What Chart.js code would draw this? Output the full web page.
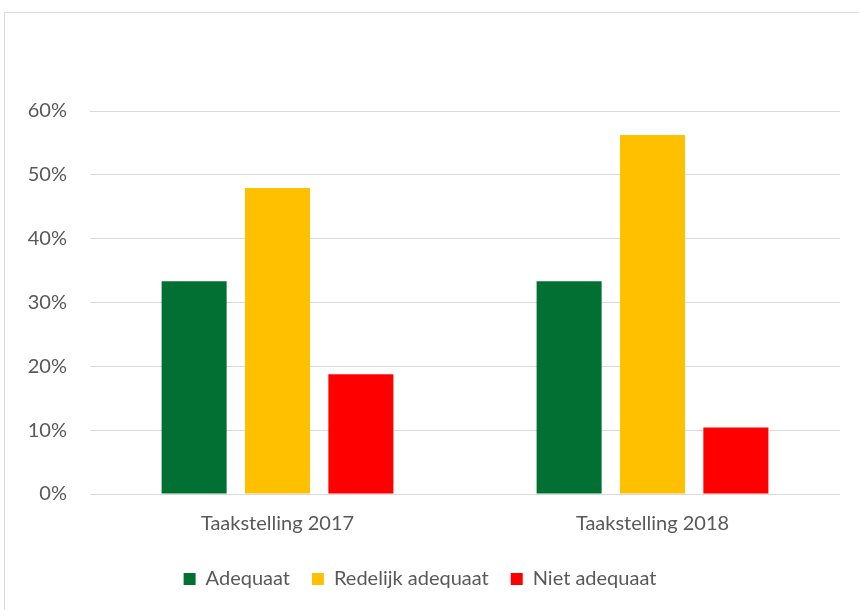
<!DOCTYPE html>
<html>
<head>
<meta charset="utf-8">
<script src="https://cdn.jsdelivr.net/npm/chart.js@4.4.0/dist/chart.umd.min.js"></script>
<style>
  html, body { margin: 0; padding: 0; background: #fff; overflow: hidden; }
  #frame { position: absolute; left: 4px; top: 12px; width: 900px; height: 650px; border: 1px solid #d9d9d9; box-sizing: border-box; }
  #wrap { position: absolute; left: 0; top: 0; width: 859px; height: 610px; }
</style>
</head>
<body>
<div id="frame"></div>
<div id="wrap"><canvas id="c" width="859" height="610"></canvas></div>
<script>
const categories = ["Taakstelling 2017", "Taakstelling 2018"];
const seriesNames = ["Adequaat", "Redelijk adequaat", "Niet adequaat"];
const adequaat = [0.3333, 0.3333];
const redelijkAdequaat = [0.4792, 0.5625];
const nietAdequaat = [0.1875, 0.1042];
const yTicks = [0, 0.1, 0.2, 0.3, 0.4, 0.5, 0.6];

const colors = ["#027033", "#ffc000", "#ff0000"];
const textColor = "#595959";
const fontFamily = "Lato, 'Open Sans', sans-serif";

new Chart(document.getElementById("c"), {
  type: "bar",
  data: {
    labels: categories,
    datasets: [
      { label: seriesNames[0], data: adequaat, backgroundColor: colors[0] },
      { label: seriesNames[1], data: redelijkAdequaat, backgroundColor: colors[1] },
      { label: seriesNames[2], data: nietAdequaat, backgroundColor: colors[2] }
    ]
  },
  options: {
    responsive: false,
    animation: false,
    devicePixelRatio: 1,
    categoryPercentage: 0.667,
    barPercentage: 0.78,
    layout: { padding: { left: 0, right: 19, top: 111, bottom: 11 } },
    plugins: {
      tooltip: { enabled: false },
      legend: {
        position: "bottom",
        labels: {
          boxWidth: 12,
          boxHeight: 12,
          padding: 22,
          color: textColor,
          font: { family: fontFamily, size: 20 }
        }
      }
    },
    scales: {
      x: {
        grid: { display: false, drawTicks: false },
        border: { display: false },
        ticks: { color: textColor, font: { family: fontFamily, size: 20 }, padding: 18 },
        afterFit: s => { s.height = 53; }
      },
      y: {
        min: 0,
        max: 0.6,
        afterBuildTicks: s => { s.ticks = yTicks.map(v => ({ value: v })); },
        grid: { color: "#d9d9d9", lineWidth: 1, drawTicks: false },
        border: { display: false },
        ticks: {
          color: textColor,
          font: { family: fontFamily, size: 20 },
          padding: 23,
          callback: v => Math.round(v * 100) + "%"
        },
        afterFit: s => { s.width = 90; }
      }
    }
  }
});
</script>
</body>
</html>
